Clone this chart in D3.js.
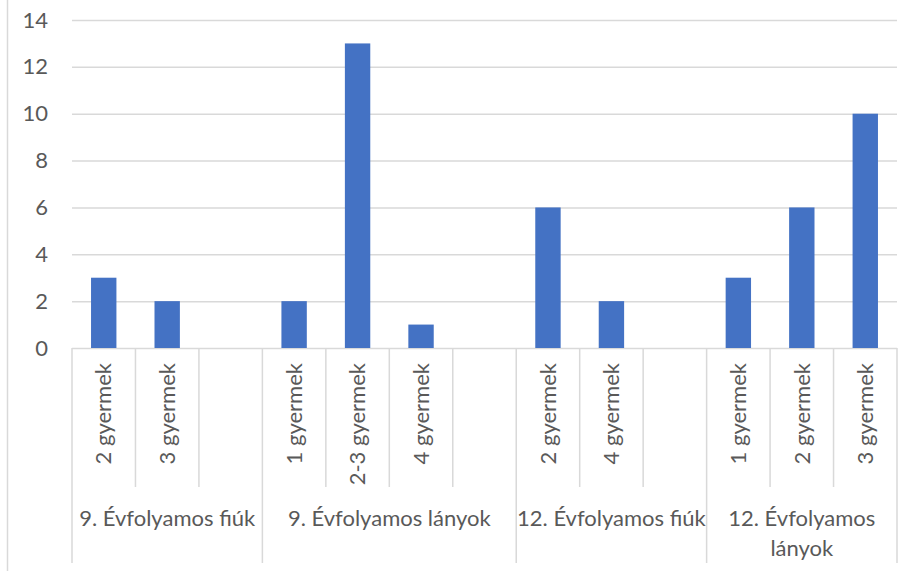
<!DOCTYPE html>
<html><head><meta charset="utf-8">
<script src="https://cdn.jsdelivr.net/npm/d3@7"></script>
<style>html,body{margin:0;padding:0;background:#fff;}svg{display:block;}</style>
</head><body>
<svg id="chart" width="912" height="571"></svg>
<script>
const groups = ["9. Évfolyamos fiúk", "9. Évfolyamos lányok", "12. Évfolyamos fiúk", "12. Évfolyamos lányok"];
const groupOf = [0, 0, 0, 1, 1, 1, 1, 2, 2, 2, 3, 3, 3];
const subLabels = ["2 gyermek", "3 gyermek", "", "1 gyermek", "2-3 gyermek", "4 gyermek", "", "2 gyermek", "4 gyermek", "", "1 gyermek", "2 gyermek", "3 gyermek"];
const values = [3, 2, null, 2, 13, 1, null, 6, 2, null, 3, 6, 10];
const yTicks = [0, 2, 4, 6, 8, 10, 12, 14];

(function () {
const FONT = "Lato, 'Open Sans', sans-serif";
const FS = 22;
const textCol = "#595959", gridCol = "#d9d9d9", barCol = "#4472c4";
const pLeft = 72, pRight = 897, pTop = 20, pBase = 348;
const svg = d3.select("#chart");

svg.append("line").attr("x1", 7.5).attr("x2", 7.5).attr("y1", 0).attr("y2", 571)
  .attr("stroke", gridCol).attr("stroke-width", 1.5);

const x = d3.scaleBand().domain(d3.range(values.length)).range([pLeft, pRight]).padding(0);
const y = d3.scaleLinear().domain([0, 14]).range([pBase, pTop]);

const yAxis = d3.axisLeft(y).tickValues(yTicks).tickSize(-(pRight - pLeft)).tickPadding(24);
const ya = svg.append("g").attr("transform", `translate(${pLeft},0)`).call(yAxis);
ya.select(".domain").remove();
ya.selectAll(".tick line").attr("stroke", gridCol).attr("stroke-width", 1.5);
ya.selectAll(".tick text").attr("fill", textCol).style("font-family", FONT).style("font-size", FS + "px");

const bw = x.bandwidth() / 2.5;
svg.append("g").selectAll("rect").data(values.map((v, i) => ({v, i})).filter(d => d.v != null))
  .join("rect")
  .attr("x", d => x(d.i) + x.bandwidth() / 2 - bw / 2)
  .attr("width", bw)
  .attr("y", d => y(d.v))
  .attr("height", d => y(0) - y(d.v))
  .attr("fill", barCol);

const sepG = svg.append("g").attr("stroke", gridCol).attr("stroke-width", 1.5);
for (let i = 0; i <= values.length; i++) {
  const xx = i < values.length ? x(i) : pRight;
  const isGroupEdge = i === 0 || i === values.length || groupOf[i] !== groupOf[i - 1];
  sepG.append("line").attr("x1", xx).attr("x2", xx).attr("y1", pBase).attr("y2", isGroupEdge ? 563 : 487);
}

svg.append("g").selectAll("text").data(subLabels.map((s, i) => ({s, i})).filter(d => d.s))
  .join("text")
  .attr("transform", d => `translate(${x(d.i) + x.bandwidth() / 2},363) rotate(-90)`)
  .attr("text-anchor", "end").attr("dy", "0.35em")
  .attr("fill", textCol).style("font-family", FONT).style("font-size", FS + "px")
  .text(d => d.s);

groups.forEach((g, gi) => {
  const idx = groupOf.map((v, i) => v === gi ? i : -1).filter(i => i >= 0);
  const x0 = x(idx[0]), x1 = x(idx[idx.length - 1]) + x.bandwidth();
  const cx = (x0 + x1) / 2, maxW = x1 - x0 + 4;
  const t = svg.append("text").attr("x", cx).attr("y", 518).attr("text-anchor", "middle")
    .attr("fill", textCol).style("font-family", FONT).style("font-size", FS + "px");
  const words = g.split(" ");
  let line = [], lines = [];
  const probe = t.append("tspan");
  words.forEach(w => {
    const test = line.concat([w]).join(" ");
    probe.text(test);
    if (probe.node().getComputedTextLength() > maxW && line.length) {
      lines.push(line.join(" ")); line = [w];
    } else line.push(w);
  });
  lines.push(line.join(" "));
  probe.remove();
  lines.forEach((l, li) => {
    t.append("tspan").attr("x", cx).attr("y", 518 + li * 30).attr("dy", "0.35em").text(l);
  });
});
})();
</script>
</body></html>
